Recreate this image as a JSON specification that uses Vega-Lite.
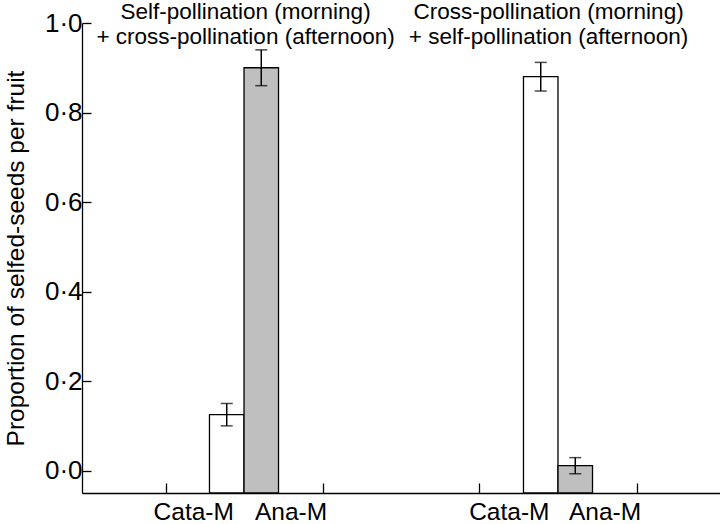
{
  "$schema": "https://vega.github.io/schema/vega-lite/v6.json",
  "width": 638,
  "height": 470,
  "autosize": {"type": "none"},
  "padding": {"left": 82, "top": 23, "right": 0, "bottom": 31},
  "background": "white",
  "config": {
    "view": {"stroke": null},
    "font": "Liberation Sans",
    "axis": {
      "domainColor": "black",
      "domainWidth": 1.3,
      "tickColor": "black",
      "tickWidth": 1.3,
      "grid": false,
      "labelColor": "black",
      "titleColor": "black",
      "labelFont": "Liberation Sans",
      "titleFont": "Liberation Sans"
    }
  },
  "datasets": {
    "bars": [
      {"group": "Self-pollination (morning) + cross-pollination (afternoon)", "morph": "Cata-M", "pos": 1.39, "value": 0.125, "err": 0.025},
      {"group": "Self-pollination (morning) + cross-pollination (afternoon)", "morph": "Ana-M", "pos": 1.61, "value": 0.9, "err": 0.04},
      {"group": "Cross-pollination (morning) + self-pollination (afternoon)", "morph": "Cata-M", "pos": 3.39, "value": 0.88, "err": 0.032},
      {"group": "Cross-pollination (morning) + self-pollination (afternoon)", "morph": "Ana-M", "pos": 3.61, "value": 0.011, "err": 0.018}
    ],
    "headers": [
      {"pos": 1.51, "text": "Self-pollination (morning)\n+ cross-pollination (afternoon)"},
      {"pos": 3.44, "text": "Cross-pollination (morning)\n+ self-pollination (afternoon)"}
    ],
    "cats": [
      {"pos": 1.18, "label": "Cata-M"},
      {"pos": 1.8, "label": "Ana-M"},
      {"pos": 3.19, "label": "Cata-M"},
      {"pos": 3.8, "label": "Ana-M"}
    ]
  },
  "layer": [
    {
      "data": {"name": "bars"},
      "mark": {"type": "bar", "width": 34.5, "stroke": "black", "strokeWidth": 1.3},
      "encoding": {
        "x": {
          "field": "pos",
          "type": "quantitative",
          "scale": {"domain": [0.5, 4.5], "nice": false, "zero": false},
          "axis": {"values": [1, 2, 3, 4], "labels": false, "tickSize": -10, "title": null}
        },
        "y": {
          "field": "value",
          "type": "quantitative",
          "scale": {"domain": [-0.05, 1.0], "nice": false, "zero": false},
          "axis": {
            "values": [0, 0.2, 0.4, 0.6, 0.8, 1.0],
            "labelExpr": "replace(format(datum.value, '.1f'), '.', '·')",
            "tickSize": -9,
            "labelPadding": 9,
            "labelFontSize": 26,
            "title": "Proportion of selfed-seeds per fruit",
            "titleFontSize": 24.5,
            "titleFontWeight": "normal",
            "titlePadding": 16
          }
        },
        "y2": {"datum": -0.05},
        "fill": {
          "field": "morph",
          "type": "nominal",
          "scale": {"domain": ["Cata-M", "Ana-M"], "range": ["#ffffff", "#bfbfbf"]},
          "legend": null
        }
      }
    },
    {
      "data": {"name": "bars"},
      "mark": {
        "type": "errorbar",
        "ticks": {"size": 12, "color": "black", "thickness": 1.5},
        "rule": {"strokeWidth": 1.5, "color": "black"}
      },
      "encoding": {
        "x": {"field": "pos", "type": "quantitative"},
        "y": {"field": "value", "type": "quantitative", "title": "Proportion of selfed-seeds per fruit"},
        "yError": {"field": "err"}
      }
    },
    {
      "data": {"name": "headers"},
      "mark": {
        "type": "text",
        "fontSize": 22.5,
        "font": "Liberation Sans",
        "color": "black",
        "lineBreak": "\n",
        "lineHeight": 25.5,
        "baseline": "alphabetic",
        "align": "center",
        "dy": -4.5
      },
      "encoding": {
        "x": {"field": "pos", "type": "quantitative"},
        "y": {"datum": 1.0},
        "text": {"field": "text"}
      }
    },
    {
      "data": {"name": "cats"},
      "mark": {
        "type": "text",
        "fontSize": 24.5,
        "font": "Liberation Sans",
        "color": "black",
        "baseline": "alphabetic",
        "align": "center",
        "dy": 27
      },
      "encoding": {
        "x": {"field": "pos", "type": "quantitative"},
        "y": {"datum": -0.05},
        "text": {"field": "label"}
      }
    }
  ]
}
